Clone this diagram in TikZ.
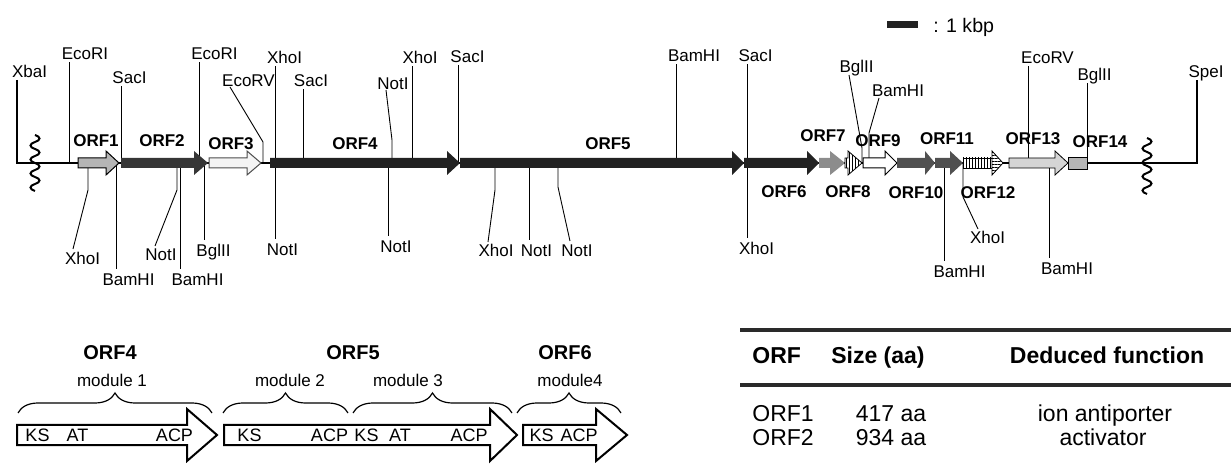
\documentclass[tikz,border=0pt]{standalone}
\usepackage{fontspec}
\setmainfont{Liberation Sans}
\usetikzlibrary{decorations.pathreplacing,patterns.meta}
\definecolor{orfblack}{HTML}{222222}
\definecolor{orfdark}{HTML}{363636}
\definecolor{orfmid}{HTML}{505050}
\definecolor{orfgray}{HTML}{8C8C8C}
\definecolor{orflight}{HTML}{B5B5B5}
\definecolor{orfpale}{HTML}{D5D5D5}
\definecolor{orfwhite}{HTML}{F4F4F4}
\definecolor{rulec}{HTML}{2A2A2A}
\newcommand\genearrow[4]{\path[#1] (#2,158) -- (#3,158) -- (#3,151) -- (#4,163) -- (#3,175) -- (#3,168) -- (#2,168) -- cycle;}
\newcommand\wavyline[2]{\draw[mainline] (#1,#2) \foreach \k in {0,...,7} { .. controls ({#1+6*(1-2*mod(\k,2))},{#2+7*\k+2}) and ({#1+6*(1-2*mod(\k,2))},{#2+7*\k+5}) .. (#1,{#2+7*\k+7}) };}
\begin{document}
\begin{tikzpicture}[x=0.5pt,y=-0.5pt,
  sitelabel/.style={inner sep=0pt,text height=6.1pt,text depth=0pt,font=\fontsize{8.5}{9}\selectfont},
  orflabel/.style={inner sep=0pt,text height=6.1pt,text depth=0pt,font=\bfseries\fontsize{8.5}{9}\selectfont},
  bigorf/.style={inner sep=0pt,text height=7.2pt,text depth=0pt,font=\bfseries\fontsize{10}{11}\selectfont},
  modlabel/.style={inner sep=0pt,text height=6.1pt,text depth=0pt,font=\fontsize{8.5}{9}\selectfont},
  domlabel/.style={inner sep=0pt,text height=6.4pt,text depth=0pt,font=\fontsize{9}{10}\selectfont},
  thead/.style={inner sep=0pt,text height=8.2pt,text depth=0pt,font=\bfseries\fontsize{11.5}{13}\selectfont},
  tcell/.style={inner sep=0pt,text height=8.2pt,text depth=0pt,font=\fontsize{11.5}{13}\selectfont},
  cutline/.style={line width=0.45pt},
  mainline/.style={line width=1pt},
  outlined/.style={draw=black,line width=0.5pt},
  boxarrow/.style={draw=black,line width=1pt,fill=white,line join=miter},
  bracestyle/.style={decorate,decoration={brace,amplitude=10pt},line width=0.6pt}
]
\useasboundingbox (0,0) rectangle (1231,464);

% ---------------- restriction site labels (top) ----------------
\node[sitelabel] (xba)  at (29.5,71) {XbaI};
\node[sitelabel] (eco1) at (85,53) {EcoRI};
\node[sitelabel] (sac1) at (129.5,77) {SacI};
\node[sitelabel] (eco2) at (214.5,53) {EcoRI};
\node[sitelabel] (ecv1) at (248.5,80) {EcoRV};
\node[sitelabel] (xho1) at (284.5,57) {XhoI};
\node[sitelabel] (sac2) at (311,80) {SacI};
\node[sitelabel] (not1) at (393,83) {NotI};
\node[sitelabel] (xho2) at (420,57) {XhoI};
\node[sitelabel] (sac3) at (467.5,56) {SacI};
\node[sitelabel] (bam1) at (694,55) {BamHI};
\node[sitelabel] (sac4) at (755.5,55) {SacI};
\node[sitelabel] (bgl1) at (856.5,66) {BglII};
\node[sitelabel] (bam2) at (898,90) {BamHI};
\node[sitelabel] (ecv2) at (1047.5,57) {EcoRV};
\node[sitelabel] (bgl2) at (1094.5,74) {BglII};
\node[sitelabel] (spe)  at (1206,71) {SpeI};

% ---------------- restriction site labels (bottom) ----------------
\node[sitelabel] (bxho1) at (82.5,258) {XhoI};
\node[sitelabel] (bbam1) at (128.5,279) {BamHI};
\node[sitelabel] (bnot1) at (161,254) {NotI};
\node[sitelabel] (bbam2) at (197.5,279) {BamHI};
\node[sitelabel] (bbgl1) at (213.5,250) {BglII};
\node[sitelabel] (bnot2) at (282.5,249) {NotI};
\node[sitelabel] (bnot3) at (396,246) {NotI};
\node[sitelabel] (bxho2) at (496,250) {XhoI};
\node[sitelabel] (bnot4) at (536.5,250) {NotI};
\node[sitelabel] (bnot5) at (577,250) {NotI};
\node[sitelabel] (bxho3) at (756.5,248) {XhoI};
\node[sitelabel] (bbam3) at (959.5,271) {BamHI};
\node[sitelabel] (bxho4) at (987.5,237) {XhoI};
\node[sitelabel] (bbam4) at (1067,268) {BamHI};

% ---------------- coordinates on the map line ----------------
\foreach \n/\xx in {ce1/69,cs1/121,ce2/199,cv1/263,cx1/275,cs2/303,cn1/392,cx2/412,cs3/458,cb1/676,cs4/747,cg1/862,cb2/869,cv2/1028,cg2/1087,
                   dx1/88,db1/116,dn1/177,db2/180,dg1/204,dn3/388,dx2/495,dn4/529,dn5/558,db3/944,dx4/963,db4/1049}
  {\coordinate (\n) at (\xx,163);}
\coordinate (xbatop) at (17,80);
\coordinate (xbacorner) at (17,163);
\coordinate (spetop) at (1197,80);
\coordinate (specorner) at (1197,163);

% ---------------- main line ----------------
\draw[mainline] (xbatop) -- (xbacorner) -- (specorner) -- (spetop);
\wavyline{35}{135}
\wavyline{1147}{138}

% ---------------- cut lines (top) ----------------
\draw[cutline,shorten <=1.5pt] (eco1.south -| ce1) -- (ce1);
\draw[cutline,shorten <=1.5pt] (sac1.south -| cs1) -- (cs1);
\draw[cutline,shorten <=1.5pt] (eco2.south -| ce2) -- (ce2);
\draw[cutline] (230,87) -- (263,142) -- (cv1);
\draw[cutline,shorten <=1.5pt] (xho1.south -| cx1) -- (cx1);
\draw[cutline,shorten <=1.5pt] (sac2.south -| cs2) -- (cs2);
\draw[cutline] (386,90) -- (392,140) -- (cn1);
\draw[cutline,shorten <=1.5pt] (xho2.south -| cx2) -- (cx2);
\draw[cutline,shorten <=1.5pt] (sac3.south -| cs3) -- (cs3);
\draw[cutline,shorten <=1.5pt] (bam1.south -| cb1) -- (cb1);
\draw[cutline,shorten <=1.5pt] (sac4.south -| cs4) -- (cs4);
\draw[cutline] (849,75) -- (862,148) -- (cg1);
\draw[cutline] (879,98) -- (869,133) -- (cb2);
\draw[cutline,shorten <=1.5pt] (ecv2.south -| cv2) -- (cv2);
\draw[cutline,shorten <=1.5pt] (bgl2.south -| cg2) -- (cg2);

% ---------------- cut lines (bottom) ----------------
\draw[cutline] (dx1) -- (88,190) -- (73,249);
\draw[cutline,shorten >=1.5pt] (db1) -- (db1 |- bbam1.north);
\draw[cutline] (dn1) -- (177,190) -- (155,246);
\draw[cutline,shorten >=1.5pt] (db2) -- (db2 |- bbam2.north);
\draw[cutline,shorten >=1.5pt] (dg1) -- (dg1 |- bbgl1.north);
\draw[cutline,shorten >=1.5pt] (cx1) -- (cx1 |- bnot2.north);
\draw[cutline,shorten >=1.5pt] (dn3) -- (dn3 |- bnot3.north);
\draw[cutline] (dx2) -- (495,190) -- (488,242);
\draw[cutline,shorten >=1.5pt] (dn4) -- (dn4 |- bnot4.north);
\draw[cutline] (dn5) -- (558,187) -- (570,241);
\draw[cutline,shorten >=1.5pt] (cs4) -- (cs4 |- bxho3.north);
\draw[cutline,shorten >=1.5pt] (db3) -- (db3 |- bbam3.north);
\draw[cutline] (dx4) -- (963,197) -- (978,229);
\draw[cutline,shorten >=1.5pt] (db4) -- (db4 |- bbam4.north);

% ---------------- genes ----------------
\genearrow{fill=orflight,outlined}{78}{106}{119}
\genearrow{fill=orfdark}{121}{194}{208}
\genearrow{fill=orfwhite,draw=black!70,line width=0.5pt}{209}{247}{261}
\genearrow{fill=orfblack}{270}{447}{460}
\genearrow{fill=orfblack}{460}{732}{744}
\genearrow{fill=orfblack}{744}{807}{819}
\genearrow{fill=orfgray}{819}{830}{845}
\genearrow{fill=white,outlined,line width=0.4pt}{845}{848}{862}
\genearrow{pattern={Lines[angle=90,distance=1.5pt,line width=0.45pt]}}{845}{848}{862}
\genearrow{fill=white,outlined}{863}{885}{897}
\genearrow{fill=orfmid}{897}{925}{935}
\genearrow{fill=orfmid}{935}{950}{963}
% ORF12
\path[fill=white] (963,158) rectangle (992,168);
\path[pattern={Lines[angle=90,distance=1.5pt,line width=0.45pt]}] (963,158) rectangle (992,168);
\draw[line width=0.4pt] (963,158) rectangle (992,168);
\path[fill=white] (992,151) -- (1003,163) -- (992,175) -- cycle;
\path[pattern={Lines[angle=0,distance=1.5pt,line width=0.45pt]}] (992,151) -- (1003,163) -- (992,175) -- cycle;
\draw[line width=0.4pt] (992,151) -- (1003,163) -- (992,175) -- cycle;
\genearrow{fill=orfpale,outlined,line width=0.4pt}{1009}{1055}{1068}
\path[fill=orflight,outlined,line width=0.4pt] (1068,157) rectangle (1087,169);

% ---------------- ORF labels ----------------
\node[orflabel] (o1) at (96,140) {ORF1};
\node[orflabel] (o2) at (162,140) {ORF2};
\node[orflabel] (o3) at (231,143) {ORF3};
\node[orflabel] (o4) at (355,143) {ORF4};
\node[orflabel] (o5) at (608,143) {ORF5};
\node[orflabel] (o6) at (784,191) {ORF6};
\node[orflabel] (o7) at (823,135) {ORF7};
\node[orflabel] (o8) at (848,191) {ORF8};
\node[orflabel] (o9) at (878,140) {ORF9};
\node[orflabel] (o10) at (916,192) {ORF10};
\node[orflabel] (o11) at (947,138) {ORF11};
\node[orflabel] (o12) at (988,192) {ORF12};
\node[orflabel] (o13) at (1033,138) {ORF13};
\node[orflabel] (o14) at (1100,141) {ORF14};

% ---------------- scale bar ----------------
\path[fill=orfblack] (887,21) rectangle (918,28);
\node[inner sep=0pt,text height=7.1pt,text depth=0pt,font=\fontsize{9.8}{11}\selectfont,anchor=west] (scale) at (933,25) {: 1 kbp};

% ---------------- module organisation ----------------
\node[bigorf] (m4) at (110,352) {ORF4};
\node[bigorf] (m5) at (353,352) {ORF5};
\node[bigorf] (m6) at (565,352) {ORF6};
\node[modlabel] (md1) at (112,380) {module 1};
\node[modlabel] (md2) at (290,380) {module 2};
\node[modlabel] (md3) at (408,380) {module 3};
\node[modlabel] (md4) at (570,380) {module4};
\draw[bracestyle] (18,413) -- (212,413);
\draw[bracestyle] (223,413) -- (348,413);
\draw[bracestyle] (353,413) -- (512,413);
\draw[bracestyle] (517,413) -- (621,413);

\draw[boxarrow] (17,425) -- (187,425) -- (187,409) -- (217,435) -- (187,461) -- (187,445) -- (17,445) -- cycle;
\draw[boxarrow] (224,425) -- (490,425) -- (490,409) -- (517,435) -- (490,461) -- (490,445) -- (224,445) -- cycle;
\draw[boxarrow] (523,425) -- (596,425) -- (596,409) -- (627,435) -- (596,461) -- (596,445) -- (523,445) -- cycle;

\node[domlabel] (d1) at (37.5,435) {KS};
\node[domlabel] (d2) at (77.5,435) {AT};
\node[domlabel] (d3) at (174.5,435) {ACP};
\node[domlabel] (d4) at (249.5,435) {KS};
\node[domlabel] (d5) at (329.5,435) {ACP};
\node[domlabel] (d6) at (366.5,435) {KS};
\node[domlabel] (d7) at (400,435) {AT};
\node[domlabel] (d8) at (469,435) {ACP};
\node[domlabel] (d9) at (541.5,435) {KS};
\node[domlabel] (d10) at (579,435) {ACP};

% ---------------- table ----------------
\draw[line width=2pt,rulec] (740,330) -- (1231,330);
\draw[line width=2pt,rulec] (740,385) -- (1231,385);
\node[thead,anchor=west] (h1) at (752,355) {ORF};
\node[thead] (h2) at (878,355) {Size (aa)};
\node[thead] (h3) at (1107,355) {Deduced function};
\node[tcell,anchor=west] (r1a) at (752,413) {ORF1};
\node[tcell] (r1b) at (891,413) {417 aa};
\node[tcell] (r1c) at (1105,413) {ion antiporter};
\node[tcell,anchor=west] (r2a) at (752,437) {ORF2};
\node[tcell] (r2b) at (891,437) {934 aa};
\node[tcell] (r2c) at (1103,437) {activator};
\end{tikzpicture}
\end{document}
